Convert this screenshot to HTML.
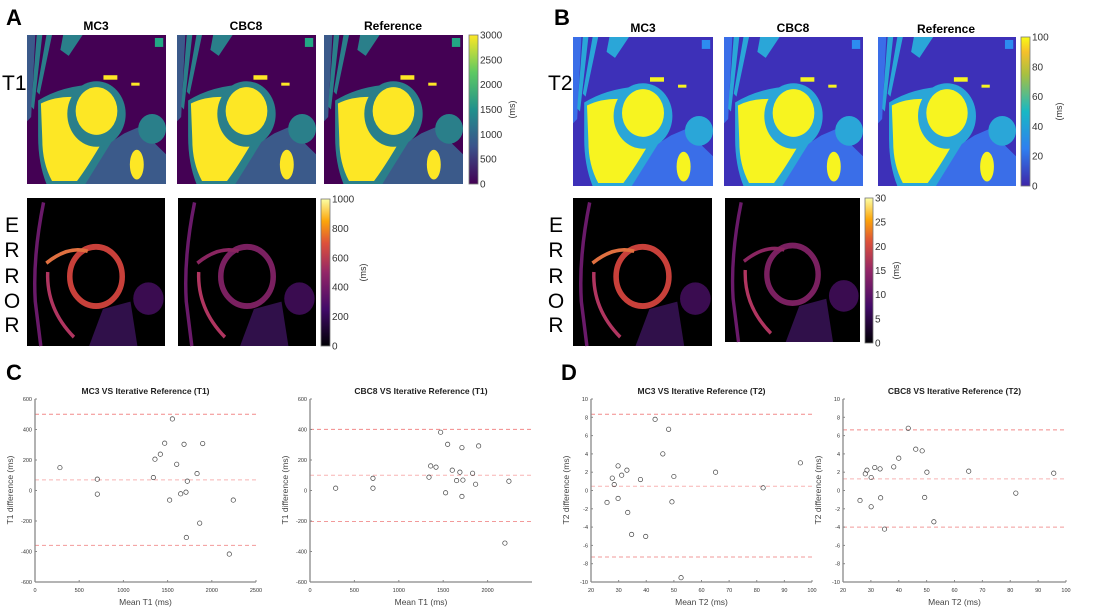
<!DOCTYPE html>
<html><head><meta charset="utf-8"><style>
html,body{margin:0;padding:0;background:#fff;}
svg{display:block;font-family:"Liberation Sans",sans-serif;}
</style></head><body>
<svg id="fig" width="1102" height="610" viewBox="0 0 1102 610">
<defs>
<linearGradient id="viridis" x1="0" y1="1" x2="0" y2="0"><stop offset="0" stop-color="#440154"/><stop offset="0.25" stop-color="#3b528b"/><stop offset="0.5" stop-color="#21918c"/><stop offset="0.75" stop-color="#5ec962"/><stop offset="1" stop-color="#fde725"/></linearGradient>
<linearGradient id="parula" x1="0" y1="1" x2="0" y2="0"><stop offset="0" stop-color="#3e26a8"/><stop offset="0.25" stop-color="#2f7ff0"/><stop offset="0.5" stop-color="#18b8c4"/><stop offset="0.75" stop-color="#a8c040"/><stop offset="0.9" stop-color="#f5c02a"/><stop offset="1" stop-color="#f9fb14"/></linearGradient>
<linearGradient id="inferno" x1="0" y1="1" x2="0" y2="0"><stop offset="0" stop-color="#000004"/><stop offset="0.25" stop-color="#420a68"/><stop offset="0.5" stop-color="#932667"/><stop offset="0.7" stop-color="#dd513a"/><stop offset="0.85" stop-color="#fca50a"/><stop offset="1" stop-color="#fcffa4"/></linearGradient>
</defs>
<g id="images"></g>
<g id="charts"></g>
<g font-weight="bold" font-size="22">
<text x="6" y="25">A</text>
<text x="554" y="25">B</text>
<text x="6" y="380">C</text>
<text x="561" y="380">D</text>
</g>
<g font-weight="bold" font-size="12" text-anchor="middle">
<text x="96" y="30">MC3</text>
<text x="246" y="30">CBC8</text>
<text x="393" y="30">Reference</text>
<text x="643" y="32">MC3</text>
<text x="793" y="32">CBC8</text>
<text x="946" y="33">Reference</text>
</g>
<g font-size="21">
<text x="2" y="90">T1</text>
<text x="548" y="90">T2</text>
<g text-anchor="middle">
<text x="12" y="232">E</text><text x="12" y="257">R</text><text x="12" y="283">R</text><text x="12" y="308">O</text><text x="12" y="332">R</text>
<text x="556" y="232">E</text><text x="556" y="257">R</text><text x="556" y="283">R</text><text x="556" y="308">O</text><text x="556" y="332">R</text>
</g></g>
</svg>
<script>
// ---- Bland-Altman data ----
const t1MeanMC3 = [282,705,705,1339,1357,1418,1467,1554,1603,1686,1897,1833,1723,1708,1648,1523,1863,1712,2243,2198];
const t1DiffMC3 = [150,74,-24,85,205,238,310,469,172,303,308,111,61,-11,-22,-63,-214,-308,-63,-417];
const t1LinesMC3 = [500,70,-360];
const t1MeanCBC8 = [289,709,709,1340,1359,1419,1471,1550,1602,1651,1688,1711,1722,1711,1527,1831,1865,1899,2195,2240];
const t1DiffCBC8 = [15,80,15,87,161,153,382,303,133,65,120,281,68,-39,-15,113,41,292,-345,61];
const t1LinesCBC8 = [401,100,-203];
const t2MeanMC3 = [25.8,27.7,28.4,29.8,29.8,31.1,33.0,33.3,34.7,37.9,39.8,43.2,46.0,48.1,50.0,49.3,52.6,65.1,82.3,95.8];
const t2DiffMC3 = [-1.31,1.35,0.65,2.69,-0.87,1.67,2.22,-2.4,-4.8,1.2,-5.02,7.78,4.0,6.69,1.53,-1.24,-9.53,2.0,0.29,3.02];
const t2LinesMC3 = [8.33,0.47,-7.27];
const t2MeanCBC8 = [26.1,28.0,28.6,30.1,30.1,31.4,33.3,33.5,34.9,38.2,40.0,43.4,46.1,48.4,49.3,50.1,52.6,65.1,82.0,95.6];
const t2DiffCBC8 = [-1.09,1.82,2.22,1.42,-1.78,2.51,2.36,-0.8,-4.22,2.58,3.53,6.8,4.51,4.33,-0.76,2.0,-3.42,2.11,-0.29,1.89];
const t2LinesCBC8 = [6.62,1.27,-4.0];
const t1XTicks = [0,500,1000,1500,2000,2500];
const t1XTicksCBC8 = [0,500,1000,1500,2000];
const t1YTicks = [-600,-400,-200,0,200,400,600];
const t2XTicks = [20,30,40,50,60,70,80,90,100];
const t2YTicks = [-10,-8,-6,-4,-2,0,2,4,6,8,10];

const NS='http://www.w3.org/2000/svg';
function mk(parent,tag,attrs){const e=document.createElementNS(NS,tag);for(const k in attrs)e.setAttribute(k,attrs[k]);parent.appendChild(e);return e;}

const charts=document.getElementById('charts');
function plot(cfg){
  const g=mk(charts,'g',{});
  
  
  const sx=v=>cfg.x0+(v-cfg.xmin)/(cfg.xmax-cfg.xmin)*(cfg.x1-cfg.x0);
  const sy=v=>582-(v-cfg.ymin)/(cfg.ymax-cfg.ymin)*(582-399);
  const t=mk(g,'text',{x:(cfg.x0+cfg.x1)/2,y:394,'text-anchor':'middle','font-size':8.5,'font-weight':'bold',fill:'#222'});
  t.textContent=cfg.title;
  
  
  const cols=['#f28a8a','#f8b4b4','#f29a9a'];
  cfg.lines.forEach((v,i)=>{
    const l=mk(g,'line',{x1:cfg.x0,x2:cfg.x1,y1:sy(v),y2:sy(v),stroke:cols[i],'stroke-width':1,'stroke-dasharray':'4,3'});
    
    
  });
  mk(g,'line',{x1:cfg.x0,x2:cfg.x0,y1:399,y2:582,stroke:'#888','stroke-width':1.3});
  mk(g,'line',{x1:cfg.x0,x2:cfg.x1,y1:582,y2:582,stroke:'#888','stroke-width':1.3});
  cfg.yt.forEach(v=>{
    mk(g,'line',{x1:cfg.x0,x2:cfg.x0+2,y1:sy(v),y2:sy(v),stroke:'#888'});
    const tx=mk(g,'text',{x:cfg.x0-3,y:sy(v)+2,'text-anchor':'end','font-size':5.5,fill:'#333'});tx.textContent=v;
    
    
  });
  cfg.xt.forEach(v=>{
    mk(g,'line',{x1:sx(v),x2:sx(v),y1:582,y2:580,stroke:'#888'});
    const tx=mk(g,'text',{x:sx(v),y:592,'text-anchor':'middle','font-size':5.5,fill:'#333'});tx.textContent=v;
    
    
  });
  const xl=mk(g,'text',{x:(cfg.x0+cfg.x1)/2,y:605,'text-anchor':'middle','font-size':8.5,fill:'#444'});xl.textContent=cfg.xlabel;
  
  
  const yx=cfg.x0-22, yy=490;
  const yl=mk(g,'text',{x:yx,y:yy,'text-anchor':'middle','font-size':8.5,fill:'#444',transform:`rotate(-90 ${yx} ${yy})`});yl.textContent=cfg.ylabel;
  
  
  cfg.xs.forEach((v,i)=>{
    const c=mk(g,'circle',{cx:sx(v),cy:sy(cfg.ys[i]),r:2.2,fill:'none',stroke:'#444','stroke-width':0.7});
    
    
  });
}
plot({name:'plot-mc3-t1',title:'MC3 VS Iterative Reference (T1)',x0:35,x1:256,xmin:0,xmax:2500,ymin:-600,ymax:600,xt:t1XTicks,yt:t1YTicks,lines:t1LinesMC3,xs:t1MeanMC3,ys:t1DiffMC3,xlabel:'Mean T1 (ms)',ylabel:'T1 difference (ms)'});
plot({name:'plot-cbc8-t1',title:'CBC8 VS Iterative Reference (T1)',x0:310,x1:532,xmin:0,xmax:2500,ymin:-600,ymax:600,xt:t1XTicksCBC8,yt:t1YTicks,lines:t1LinesCBC8,xs:t1MeanCBC8,ys:t1DiffCBC8,xlabel:'Mean T1 (ms)',ylabel:'T1 difference (ms)'});
plot({name:'plot-mc3-t2',title:'MC3 VS Iterative Reference (T2)',x0:591,x1:812,xmin:20,xmax:100,ymin:-10,ymax:10,xt:t2XTicks,yt:t2YTicks,lines:t2LinesMC3,xs:t2MeanMC3,ys:t2DiffMC3,xlabel:'Mean T2 (ms)',ylabel:'T2 difference (ms)'});
plot({name:'plot-cbc8-t2',title:'CBC8 VS Iterative Reference (T2)',x0:843,x1:1066,xmin:20,xmax:100,ymin:-10,ymax:10,xt:t2XTicks,yt:t2YTicks,lines:t2LinesCBC8,xs:t2MeanCBC8,ys:t2DiffCBC8,xlabel:'Mean T2 (ms)',ylabel:'T2 difference (ms)'});

// ---- map images (schematic) ----
const imgs=document.getElementById('images');
const palT1={bg:'#440154',mid:'#2a7f8a',light:'#22a884',hi:'#fde725',soft:'#3b5a8a'};
const palT2={bg:'#3d30b8',mid:'#2aa6d8',light:'#2d8cf0',hi:'#f7f420',soft:'#3a6ee8'};
function mapPanel(name,x,y,w,h,p){
  const g=mk(imgs,'g',{transform:`translate(${x},${y}) scale(${w/100},${h/100})`});
  
  
  mk(g,'rect',{x:0,y:0,width:100,height:100,fill:p.bg});
  mk(g,'path',{d:'M0,0 L6,0 L3,55 L0,58 Z',fill:p.soft});
  mk(g,'path',{d:'M7,0 L11,0 L5,50 L3,48 Z',fill:p.mid});
  mk(g,'path',{d:'M14,0 L18,0 L9,40 L7,38 Z',fill:p.mid});
  mk(g,'path',{d:'M26,0 L40,0 L30,14 L24,10 Z',fill:p.mid});
  mk(g,'path',{d:'M38,100 L55,75 L70,66 L80,62 L100,80 L100,100 Z',fill:p.soft});
  mk(g,'circle',{cx:90,cy:63,r:10,fill:p.mid});
  mk(g,'path',{d:'M8,44 Q25,34 50,33 L62,70 Q50,88 42,100 L14,100 Q8,86 8,68 Z',fill:p.mid});
  mk(g,'path',{d:'M10,46 Q22,40 42,42 L54,72 Q44,88 36,98 L18,98 Q11,86 11,70 Z',fill:p.hi});
  mk(g,'ellipse',{cx:50,cy:53,rx:21,ry:22,fill:p.mid});
  mk(g,'ellipse',{cx:50,cy:51,rx:15,ry:16,fill:p.hi});
  mk(g,'ellipse',{cx:79,cy:87,rx:5,ry:10,fill:p.hi});
  mk(g,'rect',{x:92,y:2,width:6,height:6,fill:p.light});
  mk(g,'rect',{x:55,y:27,width:10,height:3,fill:p.hi});
  mk(g,'rect',{x:75,y:32,width:6,height:2,fill:p.hi});
}
function errPanel(name,x,y,w,h,bright){
  const g=mk(imgs,'g',{transform:`translate(${x},${y}) scale(${w/100},${h/100})`});
  
  
  mk(g,'rect',{x:0,y:0,width:100,height:100,fill:'#000'});
  mk(g,'path',{d:'M12,3 Q4,40 6,70 L10,100',fill:'none',stroke:'#6a1a6a','stroke-width':2.5});
  mk(g,'ellipse',{cx:50,cy:53,rx:19,ry:20,fill:'none',stroke:bright?'#c8403a':'#7a2060','stroke-width':4});
  mk(g,'path',{d:'M14,44 Q30,32 44,36',fill:'none',stroke:bright?'#e07040':'#8a2560','stroke-width':2.5});
  mk(g,'path',{d:'M15,50 Q14,75 34,94',fill:'none',stroke:'#b03560','stroke-width':2.5});
  mk(g,'circle',{cx:88,cy:68,r:11,fill:'#3a0c50'});
  mk(g,'path',{d:'M45,100 L55,75 L75,70 L80,100 Z',fill:'#30104a'});
}
mapPanel('t1-map-mc3',27,35,139,149,palT1);
mapPanel('t1-map-cbc8',177,35,139,149,palT1);
mapPanel('t1-map-reference',324,35,139,149,palT1);
mapPanel('t2-map-mc3',573,37,140,149,palT2);
mapPanel('t2-map-cbc8',724,37,139,149,palT2);
mapPanel('t2-map-reference',878,37,138,149,palT2);
errPanel('t1-error-mc3',27,198,138,148,true);
errPanel('t1-error-cbc8',178,198,138,148,false);
errPanel('t2-error-mc3',573,198,139,148,true);
errPanel('t2-error-cbc8',725,198,135,144,false);

function cbar(name,x,y,w,h,grad,ticks,labelX){
  const g=mk(imgs,'g',{});
  
  
  mk(g,'rect',{x:x,y:y,width:w,height:h,fill:`url(#${grad})`,stroke:'#777','stroke-width':0.8});
  ticks.forEach((v,i)=>{
    const ty=y+h-i*h/(ticks.length-1);
    const t=mk(g,'text',{x:x+w+2,y:ty+3.5,'font-size':10,fill:'#333'});t.textContent=v;
  });
  const lx=labelX, ly=y+h/2;
  const t=mk(g,'text',{x:lx,y:ly,'text-anchor':'middle','font-size':9,fill:'#333',transform:`rotate(-90 ${lx} ${ly})`});t.textContent='(ms)';
}
cbar('t1-colorbar',469,35,9,149,'viridis',[0,500,1000,1500,2000,2500,3000],515);
cbar('t1-error-colorbar',321,199,9,147,'inferno',[0,200,400,600,800,1000],366);
cbar('t2-colorbar',1021,37,9,149,'parula',[0,20,40,60,80,100],1062);
cbar('t2-error-colorbar',865,198,8,145,'inferno',[0,5,10,15,20,25,30],899);
</script>
</body></html>
